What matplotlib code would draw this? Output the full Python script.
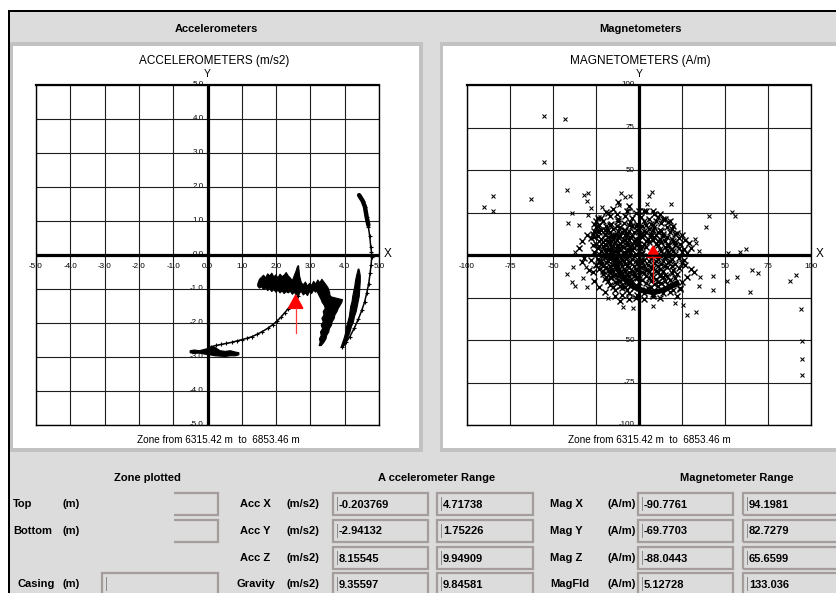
import matplotlib
matplotlib.use("Agg")
import matplotlib.pyplot as plt
from matplotlib.patches import Rectangle, Polygon
from matplotlib.lines import Line2D
from matplotlib.transforms import offset_copy

plt.rcParams['font.family'] = ['Liberation Sans', 'DejaVu Sans']

# ---------------- data ----------------
acc_ticks = [-5, -4, -3, -2, -1, 0, 1, 2, 3, 4, 5]
acc_tick_labels = ['-5.0', '-4.0', '-3.0', '-2.0', '-1.0', '0.0',
                   '1.0', '2.0', '3.0', '4.0', '5.0']
mag_ticks = [-100, -75, -50, -25, 0, 25, 50, 75, 100]
mag_tick_labels = ['-100', '-75', '-50', '-25', '0', '25', '50', '75', '100']

# thin accelerometer trails
acc_left_x = [0.10, 0.25, 0.40, 0.55, 0.70, 0.85, 1.00, 1.15, 1.30, 1.45,
              1.60, 1.75, 1.90, 2.02, 2.14, 2.25, 2.35, 2.45, 2.55, 2.63]
acc_left_y = [-2.70, -2.66, -2.63, -2.60, -2.57, -2.53, -2.49, -2.45, -2.40, -2.33,
              -2.25, -2.16, -2.05, -1.95, -1.83, -1.70, -1.58, -1.45, -1.32, -1.20]
acc_right_x = [3.92, 4.05, 4.15, 4.28, 4.40, 4.50, 4.58, 4.64, 4.70, 4.74,
               4.77, 4.79, 4.78, 4.76, 4.73, 4.69, 4.64, 4.59, 4.52, 4.42]
acc_right_y = [-2.70, -2.55, -2.40, -2.15, -1.88, -1.62, -1.38, -1.13, -0.84, -0.54,
               -0.28, -0.05, 0.10, 0.24, 0.55, 0.83, 1.12, 1.42, 1.60, 1.76]
acc_top_x = [4.69, 4.64, 4.59, 4.52, 4.42]
acc_top_y = [0.88, 1.12, 1.42, 1.60, 1.76]

# dense accelerometer clusters (envelopes of the jittering trace)
blobA_x = [-0.52, -0.40, -0.25, -0.10, 0.05, 0.20, 0.35, 0.50, 0.65, 0.80, 0.90]
blobA_top = [-2.80, -2.78, -2.80, -2.76, -2.72, -2.70, -2.80, -2.82, -2.80, -2.84, -2.86]
blobA_bot = [-2.86, -2.88, -2.87, -2.90, -2.92, -2.95, -2.96, -2.97, -2.95, -2.95, -2.92]

blobB_x = [1.45, 1.50, 1.56, 1.62, 1.68, 1.74, 1.80, 1.86, 1.92, 1.98, 2.04, 2.10, 2.16,
           2.22, 2.28, 2.34, 2.40, 2.46, 2.52, 2.57, 2.61, 2.64, 2.67, 2.72, 2.78, 2.84,
           2.90, 2.96, 3.02, 3.08, 3.14, 3.20, 3.26, 3.32, 3.38, 3.44, 3.50, 3.55]
blobB_top = [-0.84, -0.70, -0.64, -0.58, -0.66, -0.54, -0.60, -0.52, -0.63, -0.57, -0.66, -0.55, -0.62,
             -0.58, -0.50, -0.60, -0.66, -0.74, -0.58, -0.45, -0.32, -0.30, -0.60, -0.80, -0.86, -0.78,
             -0.90, -0.82, -0.88, -0.76, -0.84, -0.72, -0.80, -0.70, -0.78, -0.86, -0.95, -1.10]
blobB_bot = [-0.90, -0.96, -0.92, -1.00, -0.95, -1.03, -0.98, -1.06, -1.00, -1.08, -1.02, -1.10, -1.04,
             -1.12, -1.06, -1.10, -1.05, -1.14, -1.08, -1.16, -1.12, -1.20, -1.10, -1.06, -1.16, -1.10,
             -1.18, -1.06, -1.12, -1.02, -1.08, -0.98, -1.04, -0.96, -1.02, -1.10, -1.16, -1.20]

blobC_y = [-2.65, -2.55, -2.45, -2.35, -2.25, -2.15, -2.05, -1.95, -1.85, -1.75,
           -1.65, -1.55, -1.45, -1.38, -1.30, -1.22, -1.14, -1.06, -0.98]
blobC_left = [3.24, 3.27, 3.25, 3.30, 3.28, 3.34, 3.30, 3.36, 3.32, 3.38,
              3.36, 3.42, 3.38, 3.33, 3.30, 3.26, 3.22, 3.18, 3.14]
blobC_right = [3.30, 3.38, 3.44, 3.46, 3.52, 3.54, 3.60, 3.62, 3.68, 3.70,
               3.76, 3.80, 3.86, 3.90, 3.92, 3.60, 3.52, 3.46, 3.40]

blobD_y = [-2.70, -2.55, -2.40, -2.25, -2.10, -1.95, -1.80, -1.65, -1.50,
           -1.35, -1.20, -1.05, -0.90, -0.75, -0.60, -0.48, -0.40]
blobD_left = [3.88, 3.93, 3.98, 4.02, 4.04, 4.08, 4.12, 4.14, 4.16,
              4.20, 4.22, 4.25, 4.28, 4.30, 4.33, 4.36, 4.38]
blobD_right = [3.94, 4.02, 4.08, 4.14, 4.18, 4.24, 4.27, 4.32, 4.35,
               4.38, 4.41, 4.42, 4.43, 4.44, 4.44, 4.42, 4.40]

# current reading markers
acc_now_x, acc_now_y = 2.57, -1.18
mag_now_x, mag_now_y = 8.3, 5.3

# magnetometer readings: sparse outliers
mag_out_x = [-55, -43, -55, -85, -90, -85, -63, -42, -32, -29.5, -30.5, -28, -39, -41.5, -35,
             -29.5, -21.7, -10.3, -5.2, -8.1, -11.4, 5.6, 7.6, 4.5, 18.6, 40.7, 39, 53.9, 55.6,
             32.6, 33.1, 35, 51.9, 58.7, 62.2, -37.2, -42, -38.2, -31, -32.4, -39, -37, -30.5,
             43.2, 35.5, 51, 56.8, 65.7, 69, 87.8, 91.3, 94, 94.6, 94.6, 94.6, 43.2, 64.5,
             -9.1, -3.3, 8.3, 20.9, 25.4, 27.7, 33.1, -18.2, 35]
mag_out_y = [82, 80, 55, 35, 28, 26, 33, 38, 35.5, 36.7, 32, 27.6, 25, 18.6, 17.4,
             23.5, 28.4, 36.3, 34.9, 34.3, 29.2, 34.7, 37.2, 30, 30.2, 22.7, 16.3, 25.3, 22.7,
             9.2, 6.9, 2.4, 1.4, 1.9, 3.5, 1.6, -11.2, -6.9, -6.9, -13.3, -16, -18, -18.6,
             -12.4, -12.7, -15, -12.7, -9, -10.8, -15, -12, -32, -50.4, -61.2, -70.4, -20.6, -21.6,
             -30.4, -31.4, -29.8, -28.4, -29.4, -35.5, -33.3, -25.5, -18]

# magnetometer readings: dense body
mag_core = [
    (-19, 25.5), (-13, 24.2), (-7, 26), (-2, 24.5), (4, 25.8), (9, 24),
    (-24, 21.5), (-17, 22.8), (-12, 21), (-8, 23), (-4, 21.8), (1, 22.6), (6, 21.2), (11, 22.5), (14, 21),
    (-26, 18.5), (-21, 19.8), (-16, 18.2), (-12, 20), (-9, 18.6), (-5, 19.5), (-1, 18), (3, 19.8),
    (7, 18.4), (10, 20), (13, 18.6), (17, 19.4),
    (-23, 17.5), (-17, 17.8), (-13, 17.3), (-6, 17.9), (-2, 17.2), (4, 17.6), (8, 17.9),
    (-25, 16.4), (-22, 15), (-19, 16.8), (-15, 15.4), (-11, 16.6), (-8, 15), (-4, 16.8), (0, 15.5),
    (2, 17), (6, 15.2), (9, 16.5), (12, 15), (16, 16.6), (19, 15.4),
    (-24, 14.2), (-18, 14.8), (-12, 14.3), (-9, 14.9), (-6, 14.1), (-1, 14.7), (3, 14.4), (8, 14.8), (13, 14.2),
    (-27, 12.6), (-23, 13.8), (-20, 12.2), (-17, 13.5), (-14, 12), (-10, 13.8), (-7, 12.4), (-3, 13.6),
    (1, 12), (4, 13.4), (7, 12.2), (11, 13.7), (14, 12.3), (18, 13.5), (21, 12.4),
    (-24, 11.3), (-20, 11.8), (-16, 11.4), (-13, 11.9), (-11, 11.2), (-7, 11.6), (-4, 11.3), (0, 11.7),
    (3, 11.5), (7, 11.1), (10, 11.8), (14, 11.4),
    (-26, 10.5), (-22, 9.2), (-18, 10.8), (-15, 9.4), (-12, 10.6), (-9, 9), (-5, 10.4), (-2, 9.3),
    (2, 10.8), (5, 9.2), (9, 10.5), (12, 9.4), (16, 10.7), (19, 9.5), (23, 10.2),
    (-23, 8.2), (-20, 8.8), (-16, 8.1), (-13, 8.7), (-10, 8.3), (-8, 8.9), (-3, 8.4), (0, 8.6),
    (4, 8.2), (8, 8.8), (11, 8.1), (15, 8.5), (20, 8.3),
    (-25, 6.6), (-21, 7.8), (-17, 6.2), (-14, 7.5), (-11, 6.4), (-7, 7.7), (-4, 6.1), (-1, 7.4),
    (3, 6.5), (6, 7.8), (10, 6.3), (13, 7.5), (17, 6.5), (21, 7.6), (24, 6.4),
    (-23, 5.2), (-19, 5.8), (-15, 5.4), (-12, 5.9), (-10, 5.3), (-7, 5.7), (-5, 5.1), (-2, 5.6),
    (2, 5.3), (11, 5.8), (17, 5.4), (21, 5.6),
    (-24, 4.4), (-20, 3.2), (-16, 4.6), (-13, 3.3), (-9, 4.5), (-6, 3.1), (-3, 4.4), (1, 3.3),
    (4, 4.6), (12, 3.5), (15, 4.7), (19, 3.3), (23, 4.4), (26, 3.6),
    (-22, 2.4), (-18, 2.8), (-14, 2.2), (-11, 2.7), (-7, 2.3), (-4, 2.9), (0, 2.6), (13, 2.5),
    (16, 2.9), (20, 2.3),
    (-23, 0.6), (-19, 1.7), (-15, 0.4), (-12, 1.5), (-8, 0.3), (-5, 1.6), (-2, 0.5), (2, 1.4),
    (14, 0.6), (17, 1.8), (21, 0.5), (25, 1.5),
    (-21, -0.4), (-17, -0.8), (-14, -0.2), (-9, -0.7), (-6, -0.3), (-3, -0.8), (1, -0.2), (5, -0.6),
    (9, -0.4), (13, -0.7), (17, -0.3),
    (-24, -2.4), (-20, -1.3), (-17, -2.6), (-13, -1.5), (-10, -2.8), (-7, -1.2), (-4, -2.5), (0, -1.4),
    (3, -2.7), (7, -1.6), (11, -2.4), (15, -1.3), (19, -2.5), (23, -1.6),
    (-23, -3.4), (-18, -3.8), (-15, -3.2), (-12, -3.7), (-9, -3.3), (-6, -3.9), (-2, -3.6), (1, -3.2),
    (6, -3.7), (10, -3.3), (14, -3.8), (18, -3.4),
    (-22, -5.4), (-19, -4.2), (-15, -5.6), (-11, -4.3), (-8, -5.5), (-5, -4.1), (-1, -5.3), (2, -4.4),
    (5, -5.7), (9, -4.5), (13, -5.4), (17, -4.2), (21, -5.5), (25, -4.6),
    (-21, -6.6), (-17, -6.2), (-14, -6.8), (-12, -6.3), (-7, -6.6), (-3, -6.2), (0, -6.7), (3, -6.3),
    (7, -6.8), (11, -6.4), (15, -6.6), (19, -6.2),
    (-23, -8.3), (-19, -7.2), (-16, -8.6), (-13, -7.4), (-9, -8.5), (-6, -7.1), (-2, -8.4), (1, -7.3),
    (4, -8.7), (8, -7.5), (12, -8.2), (16, -7.3), (20, -8.6), (23, -7.7),
    (-21, -9.7), (-15, -9.2), (-11, -9.8), (-8, -9.3), (-4, -9.6), (-1, -9.1), (2, -9.8), (6, -9.4),
    (10, -9.7), (14, -9.2),
    (-21, -11.4), (-17, -10.2), (-14, -11.6), (-10, -10.4), (-7, -11.5), (-3, -10.3), (0, -11.7),
    (3, -10.5), (7, -11.3), (11, -10.2), (15, -11.5), (19, -10.4), (22, -11.2),
    (-19, -12.7), (-15, -12.2), (-9, -12.6), (-6, -12.2), (-1, -12.8), (4, -12.4), (8, -12.7),
    (12, -12.3), (16, -12.6),
    (-20, -14.3), (-16, -13.2), (-12, -14.6), (-9, -13.4), (-5, -14.5), (-1, -13.3), (2, -14.7),
    (6, -13.5), (10, -14.4), (14, -13.2), (18, -14.5), (21, -13.6),
    (-18, -15.3), (-14, -15.8), (-11, -15.4), (-7, -15.9), (-4, -15.2), (0, -15.7), (7, -15.4),
    (11, -15.8), (15, -15.3),
    (-17, -17.4), (-13, -16.2), (-10, -17.6), (-6, -16.4), (-2, -17.5), (4, -16.3), (9, -17.2),
    (13, -16.5), (17, -17.4), (20, -16.3),
    (-15, -18.7), (-11, -18.2), (-8, -18.8), (-5, -18.3), (7, -18.6), (11, -18.2), (15, -18.7),
    (-14, -20.3), (-10, -19.2), (-7, -20.6), (-3, -19.5), (1, -20.4), (5, -19.3), (20, -20.5), (24, -19.4),
    (-10, -23.4), (-6, -22.2), (-1, -23.6), (3, -22.5), (8, -23.2), (14, -22.4),
    (-20, 14.5), (-18, 8.5), (-16, 2.5), (-14, -3.5), (-18, -9.5), (-12, -12.5), (-15, 11),
    (-13, 5.5), (-11, -0.5), (-10, -6.5), (-8, 12), (-6, 8.8), (-19, -0.5), (-21, 5.5),
    (-17, -12.8), (-22, -3.8), (-9, 2), (-6, -9.8), (-3, -12.2),
]
# edge of the body
mag_ring = [
    (-25, 20), (-22, 22), (-18, 25), (-15, 27), (-12, 31), (-6, 29), (0, 26), (3, 26), (8, 26),
    (12, 24), (15, 21), (18, 20), (20, 17), (22, 13), (25, 12), (27, 9), (29, 7), (30, 4), (28, 1),
    (26, -3), (27, -6), (30, -8), (32, -10), (28, -13), (25, -16), (24, -20), (22, -24), (18, -22),
    (12, -25), (8, -24), (3, -26), (-2, -25), (-6, -26), (-11, -27), (-14, -24), (-20, -22),
    (-23, -19), (-26, -15), (-27, -10), (-25, -6), (-28, -3), (-26, 2), (-27, 6), (-28, 10),
    (-26, 14), (-24, 17), (-30, 12), (-33, 8), (-35, 4), (-32, -2), (-29, -9), (-33, -4),
]
# dark curved band inside the body
mag_arc_x = [-16, -15, -14, -13, -12, -10, -8, -6, -4, -2, 0, 2, 4, 6, 8, 10, 12, 14, 16, 18, 20, 22]
mag_arc_y = [3, 0, -3, -6, -9, -12, -14.5, -16.5, -18, -19.2, -20, -20.8, -21.3, -21.6, -21.8,
             -21.6, -21.2, -20.6, -19.8, -18.8, -17.8, -16.8]

# bottom panel values
acc_names = ['Acc X', 'Acc Y', 'Acc Z', 'Gravity']
acc_min = ['-0.203769', '-2.94132', '8.15545', '9.35597']
acc_max = ['4.71738', '1.75226', '9.94909', '9.84581']
mag_names = ['Mag X', 'Mag Y', 'Mag Z', 'MagFld']
mag_min = ['-90.7761', '-69.7703', '-88.0443', '5.12728']
mag_max = ['94.1981', '82.7279', '65.6599', '133.036']
zone_names = ['Top', 'Bottom', 'Casing']

# ---------------- layout helpers ----------------
W, H = 837, 593
fig = plt.figure(figsize=(W / 100, H / 100), dpi=100)
fig.patch.set_facecolor('white')

BG = '#dcdcdc'
FRAME = '#c2c2c2'
BOXC = '#a59c9c'


def fx(x):
    return x / W


def fy(y):
    return 1 - y / H


def rect(x0, y0, x1, y1, fc, ec='none', lw=0.0, z=-5):
    fig.add_artist(Rectangle((fx(x0), fy(y1)), (x1 - x0) / W, (y1 - y0) / H,
                             transform=fig.transFigure, facecolor=fc, edgecolor=ec,
                             linewidth=lw, zorder=z))


def txt(x, y, s, ha='left', size=8, weight='bold', **kw):
    fig.text(fx(x), fy(y), s, ha=ha, va='center', fontsize=size, fontweight=weight,
             color='black', **kw)


def vline(x, y0, y1, color, lw, z=-1):
    fig.add_artist(Line2D([fx(x), fx(x)], [fy(y0), fy(y1)], transform=fig.transFigure,
                          color=color, linewidth=lw, zorder=z))


def field(x0, x1, yc, value=None, cursor=True):
    rect(x0, yc - 11, x1, yc + 11, 'none', ec=BOXC, lw=1.6, z=-2)
    if cursor:
        vline(x0 + 4, yc - 7, yc + 6, '#8a8a8a', 0.7)
    if value is not None:
        txt(x0 + 6, yc + 0.5, value)


# ---------------- window chrome ----------------
rect(8, 10, W, H, BG, z=-6)
rect(8, 10, W, 12, 'black')
rect(8, 10, 10, H, 'black')
rect(10, 41.7, 422.7, 451.7, FRAME)
rect(13.3, 45.7, 419.3, 448.3, 'white', z=-4)
rect(440, 41.7, W + 2, 451.7, FRAME)
rect(443.3, 45.7, W + 2, 448.3, 'white', z=-4)

txt(216, 29, 'Accelerometers', ha='center')
txt(640, 29, 'Magnetometers', ha='center')

# ---------------- plots ----------------
ax1 = fig.add_axes([fx(36), fy(425), (379 - 36) / W, (425 - 85) / H])
ax2 = fig.add_axes([fx(467), fy(425), (811 - 467) / W, (425 - 85) / H])


def setup(ax, ticks, labels, lim, title, title_x, zone_x):
    ax.set_xlim(-lim, lim)
    ax.set_ylim(-lim, lim)
    ax.set_facecolor('none')
    ax.set_xticks([])
    ax.set_yticks([])
    for sp in ax.spines.values():
        sp.set_color('black')
        sp.set_linewidth(1.0)
    ax.spines['top'].set_linewidth(1.6)
    for t in ticks:
        ax.axvline(t, color='#1e1e1e', lw=0.8, zorder=2)
        ax.axhline(t, color='#1e1e1e', lw=0.8, zorder=2)
    ax.axhline(0, color='black', lw=2.3, zorder=3)
    ax.axvline(0, color='black', lw=2.3, zorder=3)
    below = offset_copy(ax.transData, fig=fig, x=0, y=-11, units='dots')
    left = offset_copy(ax.transData, fig=fig, x=-4, y=0, units='dots')
    for t, lab in zip(ticks, labels):
        ax.text(t, 0, lab, transform=below, ha='center', va='center', fontsize=5.8,
                clip_on=False, zorder=1)
        ax.text(0, t, lab, transform=left, ha='right', va='center', fontsize=5.8,
                clip_on=False, zorder=1)
    txt(title_x, 61, title, ha='center', size=8.5, weight='normal')
    ax.text(0, lim, 'Y', transform=offset_copy(ax.transData, fig=fig, x=0, y=11, units='dots'),
            ha='center', va='center', fontsize=7.5, clip_on=False)
    ax.text(lim, 0, 'X', transform=offset_copy(ax.transData, fig=fig, x=9, y=1, units='dots'),
            ha='center', va='center', fontsize=8.5, clip_on=False)
    txt(zone_x, 440, 'Zone from 6315.42 m  to  6853.46 m', ha='center', size=7.2, weight='normal')


setup(ax1, acc_ticks, acc_tick_labels, 5, 'ACCELEROMETERS (m/s2)', 214, 218)
setup(ax2, mag_ticks, mag_tick_labels, 100, 'MAGNETOMETERS (A/m)', 640, 649)

# accelerometer trace
ax1.fill_between(blobA_x, blobA_top, blobA_bot, color='black', lw=0.8, zorder=4)
ax1.fill_between(blobB_x, blobB_top, blobB_bot, color='black', lw=0.8, zorder=4)
ax1.fill_betweenx(blobC_y, blobC_left, blobC_right, color='black', lw=0.8, zorder=4)
ax1.fill_betweenx(blobD_y, blobD_left, blobD_right, color='black', lw=0.8, zorder=4)
ax1.plot(acc_left_x, acc_left_y, '-', color='black', lw=1.1, marker='+', ms=3.5, mew=0.8, zorder=4)
ax1.plot(acc_right_x, acc_right_y, '-', color='black', lw=1.1, marker='+', ms=3.5, mew=0.8, zorder=4)
ax1.plot(acc_top_x, acc_top_y, '-', color='black', lw=3.2, solid_capstyle='round', zorder=4)

# accelerometer current reading
tri_h, tri_w = 0.39, 0.21
ax1.add_patch(Polygon([[acc_now_x, acc_now_y],
                       [acc_now_x - tri_w, acc_now_y - tri_h],
                       [acc_now_x + tri_w, acc_now_y - tri_h]],
                      closed=True, color='#ff0000', zorder=6))
ax1.plot([acc_now_x, acc_now_x], [acc_now_y - tri_h, acc_now_y - 1.11], color='#ff3b3b',
         lw=0.9, zorder=6)

# magnetometer readings
core_x = [p[0] for p in mag_core + mag_ring]
core_y = [p[1] for p in mag_core + mag_ring]
ax2.plot(mag_arc_x, mag_arc_y, '-', color='black', lw=4.0, zorder=4)
ax2.plot(core_x, core_y, 'x', color='black', ms=3.8, mew=1.0, zorder=4)
ax2.plot(mag_out_x, mag_out_y, 'x', color='black', ms=3.0, mew=0.75, zorder=4)

# magnetometer current reading
mtri_h, mtri_w = 4.7, 2.8
ax2.add_patch(Polygon([[mag_now_x, mag_now_y],
                       [mag_now_x - mtri_w, mag_now_y - mtri_h],
                       [mag_now_x + mtri_w, mag_now_y - mtri_h]],
                      closed=True, color='#ff0000', zorder=6))
ax2.plot([mag_now_x - 3.8, mag_now_x + 3.9], [mag_now_y - 6.65, mag_now_y - 6.65],
         color='#ff0000', lw=1.0, zorder=6)
ax2.plot([mag_now_x, mag_now_x], [mag_now_y - 6.65, mag_now_y - 21.9], color='#ff2020',
         lw=0.9, zorder=6)

# ---------------- bottom panel ----------------
rows = [504, 531, 558, 584]
txt(147, 478, 'Zone plotted', ha='center')
txt(437, 478, 'A ccelerometer Range', ha='center')
txt(737, 478, 'Magnetometer Range', ha='center')

for name, yc, xn in zip(zone_names, [rows[0], rows[1], rows[3]], [13, 13, 18]):
    txt(xn, yc, name)
    txt(63, yc, '(m)')
field(102, 218, rows[0], cursor=False)
field(102, 218, rows[1], cursor=False)
rect(100, 490, 174, 545, BG, z=-1.5)
field(102, 218, rows[3])

for i, yc in enumerate(rows):
    txt(240 if acc_names[i] != 'Gravity' else 237, yc, acc_names[i])
    txt(287, yc, '(m/s2)')
    field(333, 428, yc, acc_min[i])
    field(437, 533, yc, acc_max[i])
    txt(550, yc, mag_names[i])
    txt(608, yc, '(A/m)')
    field(638, 733, yc, mag_min[i])
    field(743, 840, yc, mag_max[i])

fig.savefig('out.png', dpi=100)
